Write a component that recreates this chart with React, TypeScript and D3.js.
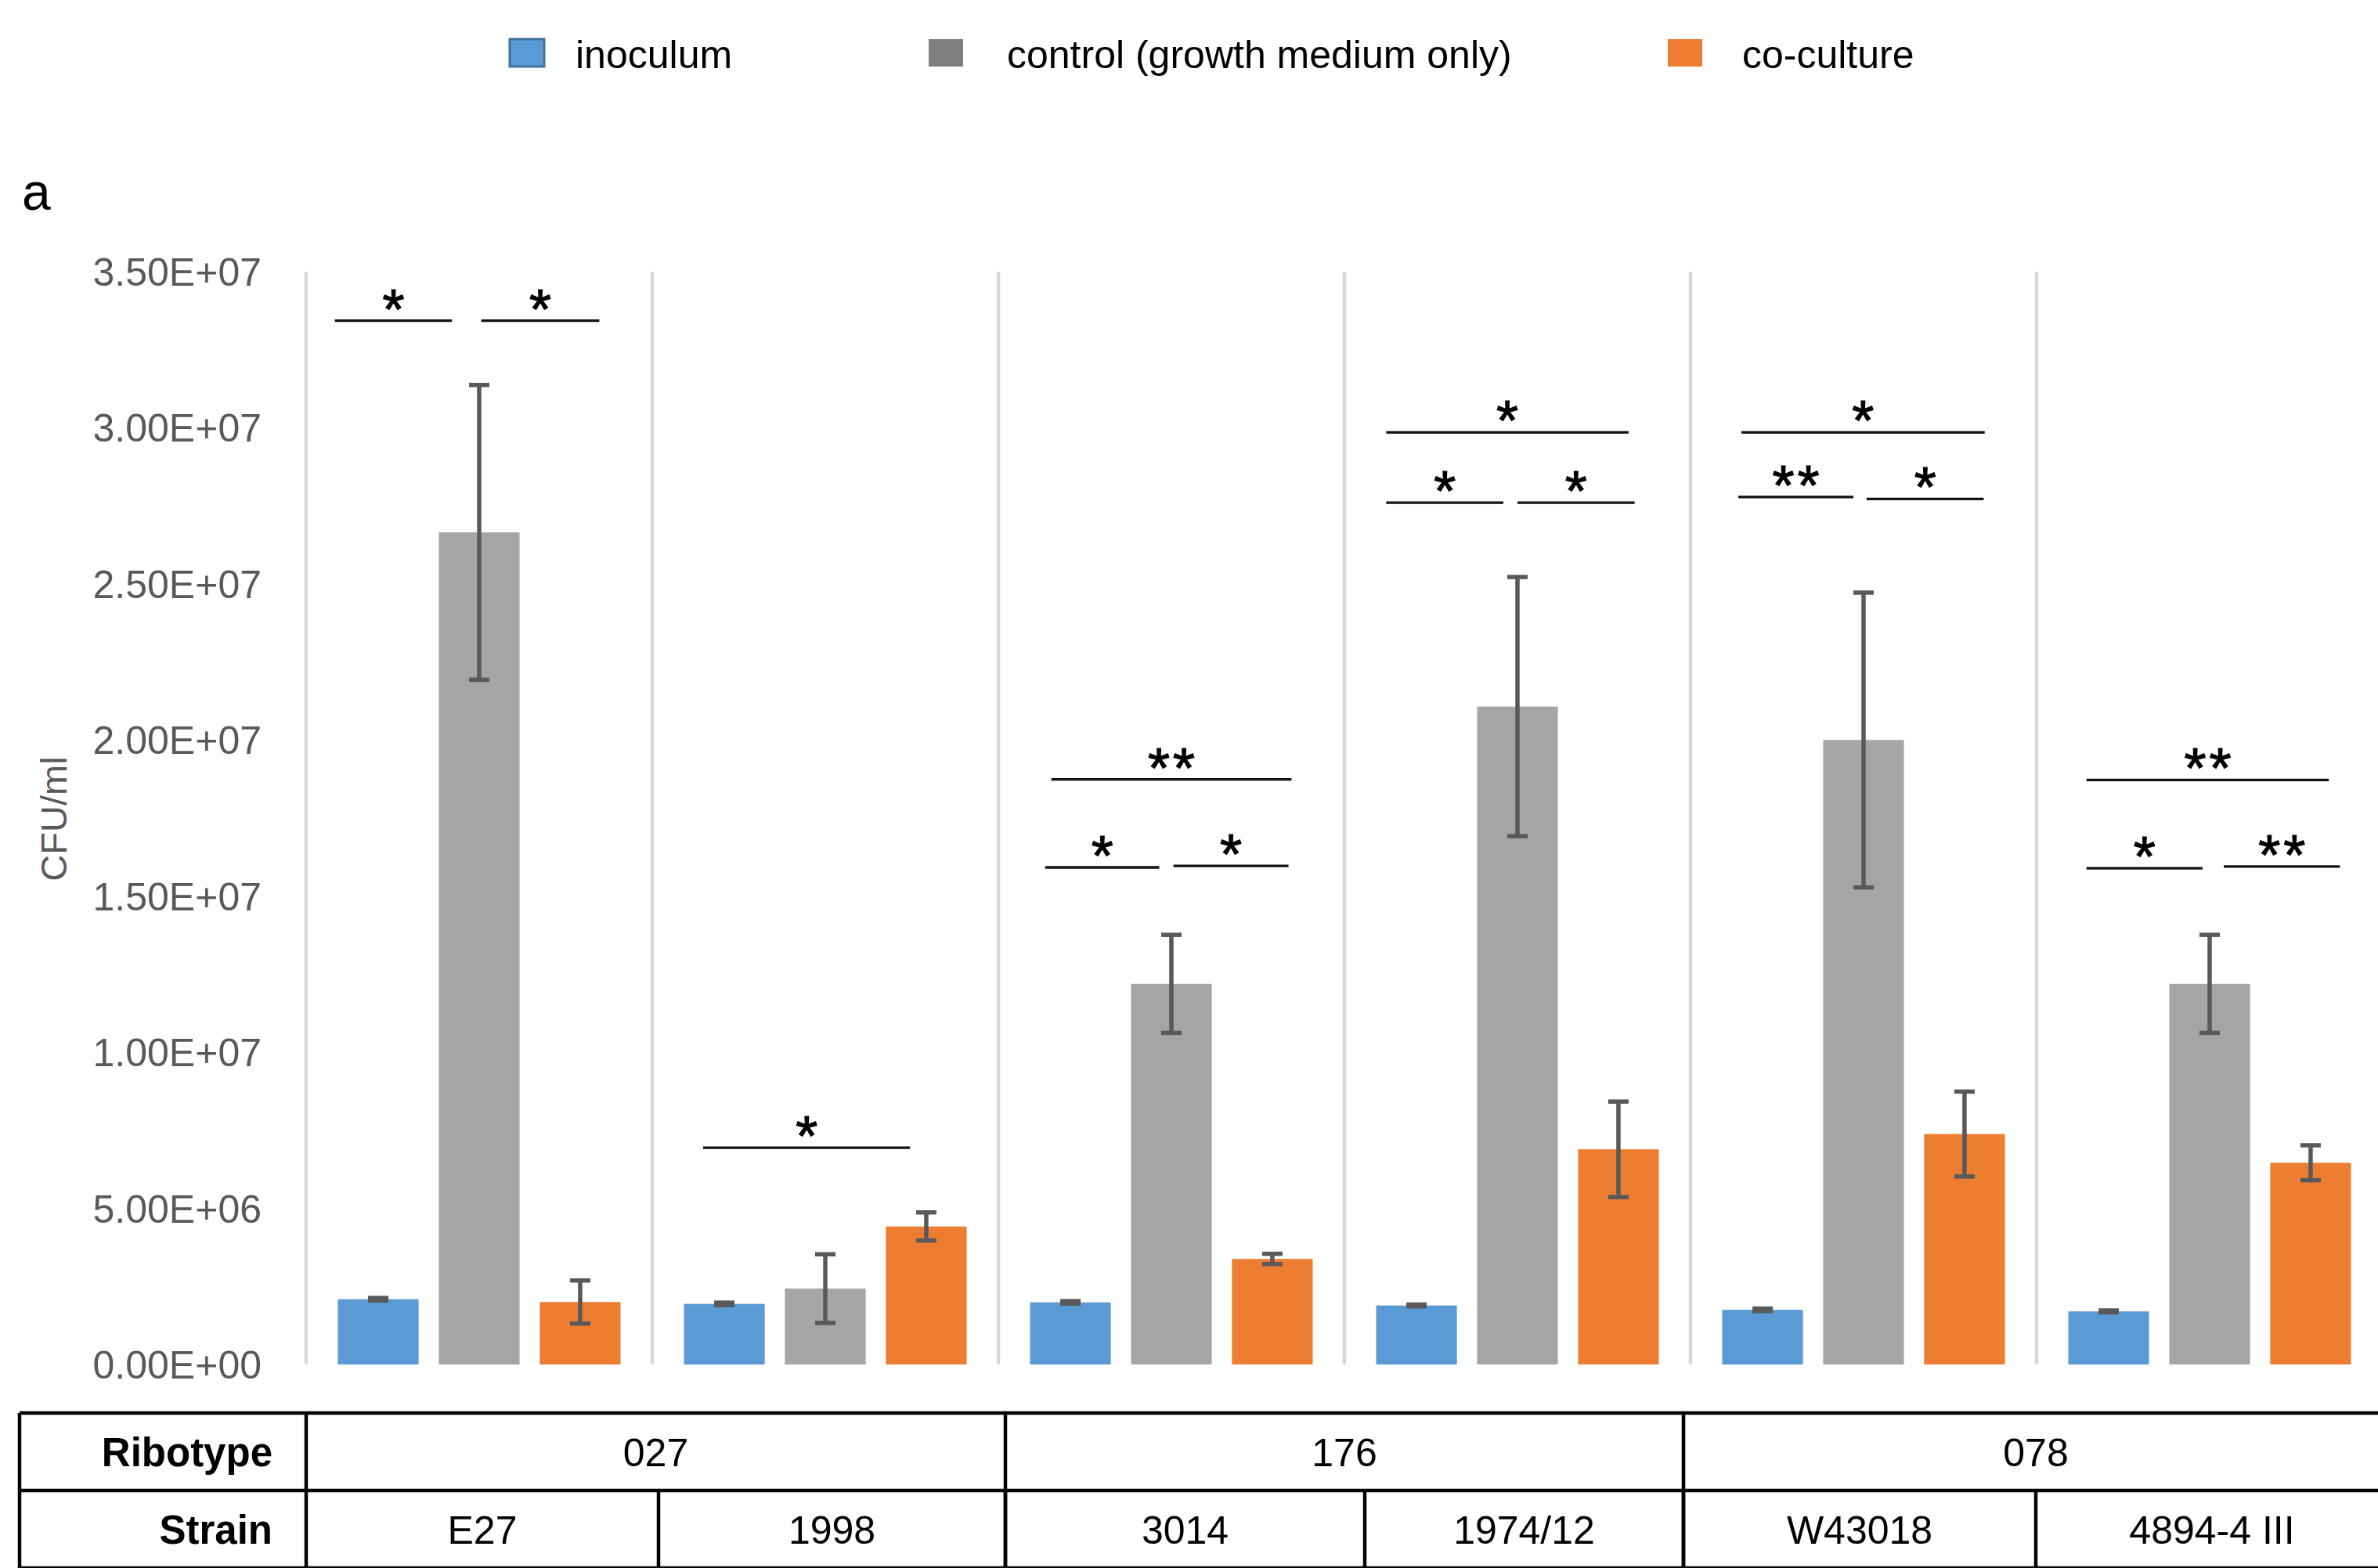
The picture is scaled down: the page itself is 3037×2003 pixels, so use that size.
import React from "react";
import * as d3 from "d3";

// ---------- data ----------
const strains = ["E27", "1998", "3014", "1974/12", "W43018", "4894-4 III"];
const ribotypes = ["027", "176", "078"];
const ribotypeSpan = [2, 2, 2]; // number of strains per ribotype
const seriesNames = ["inoculum", "control (growth medium only)", "co-culture"];

const inoculum = [2.09e6, 1.94e6, 1.99e6, 1.89e6, 1.75e6, 1.70e6];
const inoculumErr = [0.04e6, 0.04e6, 0.04e6, 0.03e6, 0.04e6, 0.03e6];
const control = [2.665e7, 2.43e6, 1.219e7, 2.107e7, 2.0e7, 1.219e7];
const controlErr = [4.72e6, 1.1e6, 1.57e6, 4.15e6, 4.72e6, 1.57e6];
const coculture = [2.0e6, 4.42e6, 3.38e6, 6.89e6, 7.38e6, 6.46e6];
const cocultureErr = [0.69e6, 0.45e6, 0.165e6, 1.53e6, 1.36e6, 0.56e6];

const yTicks = [0, 5e6, 1e7, 1.5e7, 2e7, 2.5e7, 3e7, 3.5e7];

// significance brackets: strain index, from/to in bar-position units (0 = inoculum, 1 = control, 2 = co-culture), height in CFU/ml
const sigStrain = [0, 0, 1, 2, 2, 2, 3, 3, 3, 4, 4, 4, 5, 5, 5];
const sigFrom = [-0.43, 1.02, -0.21, -0.19, -0.25, 1.02, -0.3, -0.3, 1.0, -0.21, -0.24, 1.03, -0.22, -0.22, 1.14];
const sigTo = [0.73, 2.19, 1.84, 2.19, 0.88, 2.16, 2.1, 0.86, 2.16, 2.2, 0.9, 2.19, 2.18, 0.93, 2.29];
const sigY = [3.343e7, 3.343e7, 6.94e6, 1.874e7, 1.592e7, 1.597e7, 2.985e7, 2.76e7, 2.76e7, 2.985e7, 2.778e7, 2.772e7, 1.872e7, 1.589e7, 1.595e7];
const sigLabel = ["*", "*", "*", "**", "*", "*", "*", "*", "*", "*", "**", "*", "**", "*", "**"];

// ---------- layout / style ----------
const W = 3037;
const H = 2003;
const FONT = "'Liberation Sans', Arial, sans-serif";
const COLORS = ["#5B9BD5", "#A5A5A5", "#ED7D31"];
const LEGEND_COLORS = ["#5B9BD5", "#7F7F7F", "#ED7D31"];
// the table below the plot is drawn as a separate object with its own column edges
const TABLE_STRAIN_EDGES = [391, 841, 1284, 1743, 2150, 2600, 3050];

const fmtSci = (v: number) => {
  const s = v.toExponential(2); // e.g. 3.50e+7
  const [m, e] = s.split("e");
  const sign = e[0] === "-" ? "-" : "+";
  const ex = Math.abs(parseInt(e, 10)).toString().padStart(2, "0");
  return `${m}E${sign}${ex}`;
};

export default function App() {
  const x = d3.scaleBand<string>().domain(strains).range([391, 391 + 6 * 442]).paddingInner(0).paddingOuter(0);
  const inner = d3.scaleBand<number>().domain([0, 1, 2]).range([0, x.bandwidth()]).paddingInner(0.2).paddingOuter(0.314);
  const y = d3.scaleLinear().domain([0, 3.5e7]).range([1743, 347]);

  const series = [
    { vals: inoculum, errs: inoculumErr },
    { vals: control, errs: controlErr },
    { vals: coculture, errs: cocultureErr },
  ];

  const bw = inner.bandwidth();
  const barCenter = (gi: number, u: number) =>
    (x(strains[gi]) as number) + (inner(0) as number) + bw / 2 + u * inner.step();

  const boundaries = d3.range(strains.length + 1).map((i) => 391 + i * x.step());

  // table
  const tableTop = 1805;
  const rowH = 99;
  const tableLeft = 25;
  const labelColRight = 391;
  const tableRight = TABLE_STRAIN_EDGES[TABLE_STRAIN_EDGES.length - 1];
  const te = TABLE_STRAIN_EDGES;

  const ribStarts: number[] = [];
  let acc = 0;
  ribotypeSpan.forEach((s) => {
    ribStarts.push(acc);
    acc += s;
  });

  const legendX = [651, 1186, 2130];
  const legendTextX = [735, 1286, 2225];

  return (
    <svg
      width={W}
      height={H}
      viewBox={`0 0 ${W} ${H}`}
      style={{ position: "absolute", left: 0, top: 0, display: "block", background: "#fff" }}
      fontFamily={FONT}
    >
      <rect x={0} y={0} width={W} height={H} fill="#fff" />

      {/* legend */}
      {seriesNames.map((n, i) => (
        <g key={n}>
          <rect
            x={legendX[i]}
            y={50}
            width={44}
            height={35}
            fill={LEGEND_COLORS[i]}
            stroke={i === 0 ? "#41719C" : "none"}
            strokeWidth={i === 0 ? 3 : 0}
          />
          <text x={legendTextX[i]} y={87} fontSize={50} fill="#000">
            {n}
          </text>
        </g>
      ))}

      {/* panel letter */}
      <text x={28} y={268} fontSize={66} fill="#000">
        a
      </text>

      {/* y axis title */}
      <text
        transform={`translate(85, 1046) rotate(-90)`}
        textAnchor="middle"
        fontSize={47}
        fill="#595959"
      >
        CFU/ml
      </text>

      {/* y tick labels */}
      {yTicks.map((t) => (
        <text key={t} x={334} y={y(t)} dy="0.36em" textAnchor="end" fontSize={50} fill="#595959">
          {fmtSci(t)}
        </text>
      ))}

      {/* category separators */}
      {boundaries.map((b, i) => (
        <line key={i} x1={b} x2={b} y1={y(3.5e7)} y2={y(0)} stroke="#D9D9D9" strokeWidth={4.5} />
      ))}

      {/* bars */}
      {series.map((s, si) =>
        strains.map((st, gi) => {
          const x0 = (x(st) as number) + (inner(si) as number);
          return (
            <rect
              key={`${si}-${gi}`}
              x={x0}
              y={y(s.vals[gi])}
              width={bw}
              height={y(0) - y(s.vals[gi])}
              fill={COLORS[si]}
            />
          );
        })
      )}

      {/* error bars */}
      {series.map((s, si) =>
        strains.map((st, gi) => {
          const cx = barCenter(gi, si);
          const hi = y(s.vals[gi] + s.errs[gi]);
          const lo = y(s.vals[gi] - s.errs[gi]);
          const cap = 13;
          return (
            <g key={`e${si}-${gi}`} stroke="#595959" strokeWidth={5.5}>
              <line x1={cx} x2={cx} y1={hi} y2={lo} />
              <line x1={cx - cap} x2={cx + cap} y1={hi} y2={hi} />
              <line x1={cx - cap} x2={cx + cap} y1={lo} y2={lo} />
            </g>
          );
        })
      )}

      {/* significance brackets */}
      {sigStrain.map((gi, k) => {
        const xa = barCenter(gi, sigFrom[k]);
        const xb = barCenter(gi, sigTo[k]);
        const yy = y(sigY[k]);
        const two = sigLabel[k].length > 1;
        return (
          <g key={`s${k}`}>
            <line x1={xa} x2={xb} y1={yy} y2={yy} stroke="#111" strokeWidth={3.3} />
            <text
              x={(xa + xb) / 2 + (two ? 2 : 0)}
              y={yy + 10}
              textAnchor="middle"
              fontSize={72}
              letterSpacing={two ? 4 : 0}
              fill="#000"
              stroke="#000"
              strokeWidth={1.2}
            >
              {sigLabel[k]}
            </text>
          </g>
        );
      })}

      {/* table */}
      <g stroke="#000" strokeWidth={4.5}>
        <line x1={tableLeft} x2={tableRight + 10} y1={tableTop} y2={tableTop} />
        <line x1={tableLeft} x2={tableRight + 10} y1={tableTop + rowH} y2={tableTop + rowH} />
        <line x1={tableLeft} x2={tableRight + 10} y1={tableTop + 2 * rowH} y2={tableTop + 2 * rowH} />
        <line x1={tableLeft} x2={tableLeft} y1={tableTop} y2={tableTop + 2 * rowH} />
        <line x1={labelColRight} x2={labelColRight} y1={tableTop} y2={tableTop + 2 * rowH} />
        {ribStarts.slice(1).map((s, i) => (
          <line key={`rb${i}`} x1={te[s]} x2={te[s]} y1={tableTop} y2={tableTop + 2 * rowH} />
        ))}
        {te.slice(1).map((b, i) => (
          <line key={`sb${i}`} x1={b} x2={b} y1={tableTop + rowH} y2={tableTop + 2 * rowH} />
        ))}
      </g>
      <text x={348} y={tableTop + 68} textAnchor="end" fontSize={51} fontWeight="bold" fill="#000">
        Ribotype
      </text>
      <text x={348} y={tableTop + rowH + 68} textAnchor="end" fontSize={51} fontWeight="bold" fill="#000">
        Strain
      </text>
      {ribotypes.map((r, i) => {
        const a = te[ribStarts[i]];
        const b = te[ribStarts[i] + ribotypeSpan[i]];
        return (
          <text key={r} x={(a + b) / 2} y={tableTop + 68} textAnchor="middle" fontSize={50} fill="#000">
            {r}
          </text>
        );
      })}
      {strains.map((s, i) => (
        <text
          key={s}
          x={(te[i] + te[i + 1]) / 2}
          y={tableTop + rowH + 68}
          textAnchor="middle"
          fontSize={50}
          fill="#000"
        >
          {s}
        </text>
      ))}
    </svg>
  );
}
